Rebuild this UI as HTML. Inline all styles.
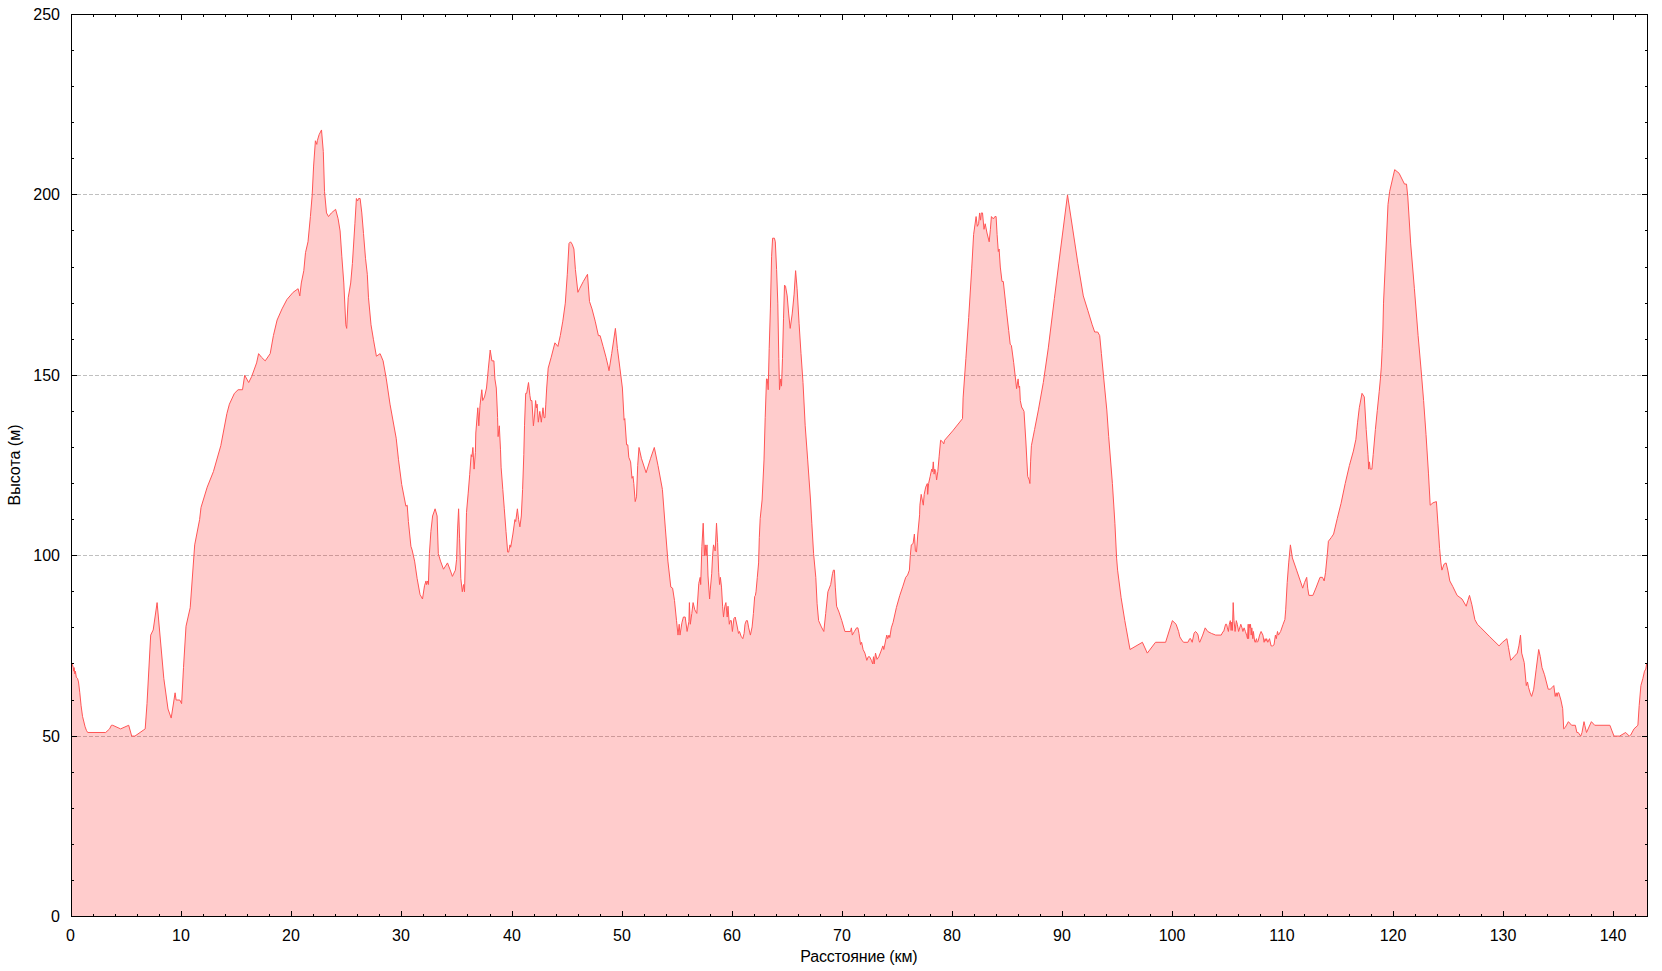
<!DOCTYPE html>
<html lang="ru"><head><meta charset="utf-8"><title>Профиль высоты</title>
<style>html,body{margin:0;padding:0;background:#fff;overflow:hidden}svg{display:block}text{font-family:"Liberation Sans",Arial,sans-serif;font-size:16px;fill:#000}</style></head><body>
<svg width="1662" height="971" viewBox="0 0 1662 971">
<rect x="0" y="0" width="1662" height="971" fill="#fff"/>
<g stroke="#c0c0c0" stroke-width="1" stroke-dasharray="4 2" shape-rendering="crispEdges">
<line x1="71" y1="736.5" x2="1647" y2="736.5"/>
<line x1="71" y1="555.5" x2="1647" y2="555.5"/>
<line x1="71" y1="375.5" x2="1647" y2="375.5"/>
<line x1="71" y1="194.5" x2="1647" y2="194.5"/>
</g>
<polygon points="71.5,916.5 71.5,663.94 72.2,663.94 73.3,667.55 73.7,671.16 74.1,667.55 74.8,673.83 75.4,671.16 76.3,677.34 77.5,678.37 78.5,681.98 79.8,692.80 81.1,705.80 82.5,716.31 85.1,726.82 86.4,730.33 87.7,732.49 105.7,732.49 109.6,728.88 111.4,725.28 112.7,725.28 120.6,728.88 128.7,725.28 131.7,736.10 134.9,736.10 145.2,728.88 147.0,703.63 150.7,635.08 153.2,629.96 157.1,602.60 163.8,678.37 168.0,709.03 171.2,718.06 175.1,692.80 176.1,700.02 179.8,700.02 181.6,703.63 183.5,667.55 186.0,626.25 190.2,607.72 194.7,544.88 199.6,519.62 201.0,507.44 207.2,487.15 213.4,471.61 220.8,445.67 226.9,413.55 229.4,404.16 234.4,393.34 238.1,389.73 242.5,389.73 244.7,375.30 248.7,382.52 251.7,376.48 256.6,362.89 258.6,353.65 261.5,357.26 265.2,360.87 270.2,353.65 273.4,335.61 277.1,320.03 282.0,308.91 286.9,299.53 293.1,292.32 298.1,288.71 299.8,295.92 301.3,282.97 303.8,270.67 305.5,252.63 308.0,241.80 310.4,216.55 312.2,194.90 313.6,166.04 315.4,140.78 316.8,144.39 317.3,140.78 319.1,134.71 321.5,129.96 323.3,151.60 324.5,191.29 326.5,212.94 328.5,216.55 331.4,212.94 335.6,209.33 338.1,218.72 340.1,230.98 341.8,256.24 343.8,282.97 345.8,324.79 346.7,328.40 348.2,297.79 350.7,282.97 352.4,263.45 354.9,223.76 356.4,198.51 357.6,200.93 358.6,198.51 360.1,198.51 361.8,212.94 363.5,233.55 365.5,258.26 367.3,274.28 368.5,297.79 371.0,324.79 373.4,339.22 376.4,356.22 380.1,353.65 383.1,360.87 386.3,378.91 390.0,404.16 396.2,438.26 398.5,459.77 401.7,484.48 405.9,506.22 407.2,505.19 408.4,521.54 410.9,546.25 412.1,549.96 414.6,561.08 417.1,578.37 420.0,594.43 422.5,599.00 424.5,585.78 426.0,580.96 426.5,584.56 427.7,580.96 428.4,584.56 429.4,553.66 430.9,531.42 432.6,516.01 435.1,508.80 437.1,516.01 438.3,553.66 440.5,561.08 443.5,569.23 447.5,562.92 449.9,569.23 452.4,576.40 455.4,570.13 456.6,559.31 457.6,528.95 458.6,508.80 459.6,538.84 460.8,578.37 462.3,591.78 463.5,584.56 464.5,591.78 465.5,552.09 466.5,512.40 468.2,493.12 469.7,474.59 471.2,454.68 471.9,456.80 472.9,447.46 474.1,469.11 475.4,452.35 475.8,433.03 477.8,407.77 478.8,425.81 480.0,405.32 481.8,389.73 482.7,400.56 484.5,396.95 486.5,388.02 488.4,368.08 490.2,350.04 491.9,360.87 493.9,360.87 494.9,378.91 496.3,388.02 497.6,417.67 498.1,436.64 499.3,425.81 500.5,449.80 501.1,467.18 502.8,489.42 504.3,508.80 506.0,531.42 507.7,552.09 508.7,552.09 510.0,544.88 510.7,547.24 512.9,534.05 514.9,519.62 515.7,521.54 517.4,508.80 518.6,519.62 519.9,526.84 521.3,516.01 522.6,489.42 523.8,454.68 524.5,425.81 525.7,393.34 526.7,393.34 528.5,382.52 529.9,395.44 530.7,400.56 531.9,400.56 533.4,425.81 534.6,414.99 535.6,400.56 536.4,407.77 537.1,404.16 538.3,422.20 539.8,411.38 541.3,422.20 543.0,407.77 544.0,417.67 545.0,417.67 545.8,404.16 546.7,388.02 548.2,368.08 551.2,357.26 554.9,342.83 557.9,346.44 560.3,335.61 562.8,321.18 565.3,303.14 567.3,274.28 569.0,243.47 570.5,241.80 572.2,244.22 573.9,249.02 575.4,269.42 577.9,292.32 579.6,288.71 583.3,281.49 587.5,274.28 589.5,301.54 592.0,308.95 595.2,321.18 598.4,335.61 600.1,335.61 603.1,346.44 606.0,357.26 608.0,365.78 609.0,370.73 611.7,353.65 615.4,328.40 617.4,348.49 619.9,368.08 622.4,388.02 624.1,420.15 624.8,418.60 626.6,444.85 627.8,444.85 628.8,457.30 630.6,461.89 632.0,478.30 633.0,476.32 633.8,483.54 635.2,501.58 636.5,496.83 637.7,465.50 639.0,447.46 641.4,458.28 646.1,472.72 650.6,458.28 654.3,447.46 658.0,465.50 662.4,489.42 665.4,528.95 667.9,561.08 670.8,587.02 672.6,588.17 674.5,600.61 676.5,620.64 678.0,635.08 679.2,624.25 680.0,635.08 681.9,622.85 683.4,617.04 685.2,617.04 687.1,631.47 688.9,621.61 689.4,602.60 690.3,624.25 691.8,613.43 693.1,602.60 694.8,609.82 696.8,613.43 698.8,583.31 700.2,577.35 700.7,584.56 701.9,546.33 703.2,523.23 704.4,555.70 705.2,544.88 706.1,555.70 707.0,544.88 708.0,575.98 709.6,599.00 710.2,590.81 711.7,573.74 712.6,555.70 713.5,544.88 714.5,548.48 715.2,550.97 716.5,523.23 717.6,542.63 718.7,572.28 719.6,584.56 720.4,577.35 721.5,587.10 722.6,606.21 723.5,617.04 724.8,606.21 725.9,602.60 727.2,617.04 728.0,606.21 729.3,624.25 730.2,620.64 731.3,620.64 732.4,631.47 733.9,618.61 735.2,617.04 737.1,626.02 738.5,633.44 739.5,631.47 741.1,636.22 742.8,638.68 744.1,633.44 745.0,624.25 746.3,620.64 747.4,620.64 748.7,627.86 750.4,635.08 752.1,626.95 753.4,613.43 754.7,596.37 755.4,595.39 756.0,591.78 757.3,577.35 758.6,562.92 759.3,537.66 760.2,518.53 762.1,500.00 764.0,459.93 765.2,417.67 766.5,378.91 767.2,378.91 768.2,389.73 769.2,348.49 770.4,308.95 771.6,256.24 772.6,238.20 774.4,238.20 775.3,241.80 776.6,269.42 777.8,303.14 778.8,358.37 779.5,389.73 780.8,378.91 781.5,386.12 782.5,358.37 783.5,318.84 784.5,285.10 785.5,286.22 787.2,295.92 788.7,313.96 790.2,328.40 792.2,313.96 794.1,294.13 795.6,270.67 797.1,288.71 799.1,323.78 801.0,353.65 803.0,382.52 805.2,425.81 807.7,459.93 810.5,500.00 811.8,523.23 813.6,553.75 815.8,577.35 817.1,603.78 818.6,620.64 821.4,626.95 823.8,631.47 825.7,613.43 827.9,591.78 830.7,584.56 832.5,573.74 833.4,570.13 834.4,570.13 835.3,587.10 836.6,606.21 839.0,612.12 841.8,620.64 844.9,631.47 850.5,631.47 851.4,627.86 852.3,635.08 854.4,631.47 856.6,627.86 857.9,627.86 859.0,633.44 860.5,644.56 861.6,642.29 863.1,649.51 864.9,653.12 866.8,660.33 868.3,656.72 869.6,656.72 871.4,660.33 872.7,663.94 873.5,656.72 874.2,663.94 875.5,653.12 877.0,659.38 878.8,656.72 880.7,651.97 882.9,645.90 883.8,649.51 886.3,637.14 886.8,635.08 887.7,638.68 889.0,635.08 889.8,637.51 891.3,627.86 893.1,622.32 896.4,607.49 899.8,595.39 902.9,586.18 905.7,577.35 907.6,575.06 909.4,570.13 910.3,555.70 911.3,544.88 913.1,543.55 914.4,534.05 915.4,550.97 916.5,552.09 917.8,534.05 919.6,514.83 919.9,505.19 921.2,494.36 923.3,505.19 924.2,494.36 925.7,487.15 927.3,483.54 927.7,494.36 928.6,483.54 930.2,476.32 931.7,469.11 932.5,471.66 933.3,461.89 934.1,474.13 934.7,469.11 935.6,470.42 936.6,479.93 937.8,471.66 939.1,456.83 940.6,440.24 942.2,441.39 943.8,443.85 944.6,440.24 952.7,430.89 962.5,418.60 963.1,397.91 965.9,358.37 968.7,317.57 971.7,268.84 973.6,234.59 976.1,216.55 977.3,226.34 978.6,223.76 979.6,212.94 980.6,220.16 981.3,212.94 982.5,212.94 984.0,229.30 985.2,223.76 987.0,233.01 989.2,241.80 990.4,229.30 991.4,216.55 993.4,218.92 994.9,216.55 996.1,216.55 997.1,234.59 998.3,251.54 999.1,249.02 1000.3,267.06 1002.0,281.49 1003.3,281.49 1006.2,308.37 1008.7,330.61 1010.2,344.20 1011.4,345.44 1013.7,362.73 1016.6,388.68 1018.1,378.91 1018.9,387.44 1019.6,386.12 1020.3,400.56 1021.8,407.77 1022.2,407.77 1024.0,411.38 1025.9,442.01 1027.7,476.32 1029.2,479.93 1029.9,483.54 1030.6,461.89 1031.4,445.71 1034.6,429.42 1038.4,409.93 1043.3,382.52 1048.3,347.91 1054.4,298.49 1060.6,249.02 1067.5,194.90 1073.0,230.98 1077.9,263.45 1083.3,295.92 1087.8,310.36 1092.2,324.79 1094.7,332.00 1097.7,332.00 1099.7,335.61 1101.4,353.65 1103.9,380.03 1106.8,409.93 1108.7,436.64 1112.4,483.54 1114.9,523.23 1116.6,558.14 1117.6,570.13 1121.1,597.67 1124.8,620.64 1126.1,627.86 1130.0,649.51 1142.4,642.29 1147.3,653.12 1155.5,642.29 1165.6,642.29 1172.4,620.64 1176.1,624.25 1178.6,631.47 1179.8,636.86 1181.7,639.95 1183.5,642.29 1187.9,642.29 1189.7,638.68 1190.6,638.68 1192.2,642.29 1194.1,633.15 1195.5,631.47 1197.1,633.15 1198.1,635.08 1199.0,640.57 1199.7,642.29 1202.7,635.08 1205.2,627.86 1207.7,631.47 1211.4,633.40 1215.7,635.08 1221.2,635.08 1223.1,631.47 1223.7,631.47 1225.6,624.25 1226.6,624.25 1227.4,627.86 1228.4,631.47 1229.3,624.25 1230.3,620.64 1231.1,630.43 1231.8,622.03 1232.4,630.43 1233.2,602.60 1234.0,620.64 1235.1,631.47 1236.3,620.64 1237.3,624.25 1238.6,631.47 1240.8,624.25 1242.0,627.86 1242.9,631.47 1244.1,627.86 1245.4,631.47 1246.6,635.08 1247.5,638.68 1248.2,624.25 1248.6,638.68 1249.3,624.25 1250.0,627.86 1250.5,624.25 1251.2,635.08 1251.8,627.86 1252.8,638.68 1253.4,631.47 1254.6,641.19 1255.2,642.29 1256.5,638.68 1257.1,642.29 1258.1,641.19 1259.6,635.08 1261.1,631.47 1262.9,635.08 1264.1,642.29 1265.1,638.68 1266.0,641.19 1266.6,638.68 1267.8,642.29 1269.5,638.68 1271.1,645.90 1272.5,645.90 1274.0,644.89 1275.4,635.08 1276.3,638.68 1277.5,631.47 1278.4,635.08 1280.6,631.47 1283.1,624.25 1284.9,619.56 1285.7,609.82 1287.2,582.62 1288.7,562.92 1290.4,544.88 1292.4,557.91 1296.6,570.13 1300.3,580.96 1302.7,588.17 1304.5,582.62 1306.7,577.35 1307.7,588.17 1308.9,595.39 1312.9,595.39 1316.3,587.06 1320.0,577.35 1322.5,577.35 1324.2,580.96 1325.5,572.73 1327.5,552.09 1328.4,541.27 1331.2,537.66 1333.6,534.05 1337.3,518.37 1341.0,503.55 1345.2,483.54 1349.4,465.50 1353.4,451.07 1355.9,439.30 1357.6,422.20 1359.3,407.77 1362.0,393.34 1364.3,396.95 1366.2,429.42 1368.0,454.68 1368.7,469.11 1369.5,461.89 1370.2,469.11 1371.9,469.11 1373.2,454.68 1375.4,429.42 1377.3,410.32 1379.2,391.78 1380.4,378.91 1381.3,367.07 1382.2,348.53 1382.9,330.00 1383.5,303.14 1386.0,249.02 1388.0,204.36 1389.7,191.29 1394.7,169.64 1399.1,173.25 1404.5,184.08 1406.5,184.08 1407.8,196.95 1410.7,243.90 1414.4,288.71 1418.1,335.61 1421.1,369.91 1423.6,400.56 1426.0,434.36 1428.5,473.90 1430.2,505.19 1433.0,502.81 1436.4,501.58 1437.9,523.23 1439.6,548.48 1440.9,562.92 1441.9,570.13 1444.1,564.08 1446.1,562.92 1447.8,570.13 1449.8,580.96 1452.7,586.32 1457.1,595.39 1462.0,599.00 1466.2,606.21 1467.8,600.71 1469.5,595.39 1471.9,604.84 1474.9,619.67 1477.4,624.25 1481.0,627.86 1489.2,636.15 1499.1,645.90 1502.4,642.29 1506.9,638.68 1508.5,647.69 1510.7,660.33 1514.0,656.72 1517.3,653.12 1518.9,645.90 1520.5,635.08 1521.7,653.12 1524.2,662.53 1526.3,685.59 1527.5,681.98 1528.5,687.25 1530.1,692.80 1531.6,696.41 1533.7,689.20 1536.2,669.12 1538.7,649.51 1540.3,656.72 1542.0,667.55 1544.5,674.76 1548.2,689.20 1550.2,689.20 1552.4,687.25 1553.8,685.59 1555.2,696.41 1556.2,692.80 1557.1,696.41 1557.8,692.80 1558.8,692.80 1560.9,700.02 1562.7,708.68 1563.7,728.88 1565.1,727.64 1568.4,721.67 1571.6,725.28 1575.3,725.28 1576.9,732.49 1578.2,732.49 1580.7,736.10 1582.0,732.49 1584.0,721.67 1584.8,725.28 1586.5,732.49 1591.4,721.67 1594.7,725.28 1609.9,725.28 1612.0,730.93 1614.0,736.10 1619.5,736.10 1625.7,732.49 1629.3,736.10 1630.7,735.05 1634.0,728.88 1637.9,725.28 1639.2,705.38 1640.9,685.59 1642.9,678.37 1644.5,671.16 1645.8,669.12 1646.6,663.94 1647.5,663.94 1647.5,916.5" fill="rgba(255,0,0,0.2)" stroke="none"/>
<polyline points="71.5,663.94 72.2,663.94 73.3,667.55 73.7,671.16 74.1,667.55 74.8,673.83 75.4,671.16 76.3,677.34 77.5,678.37 78.5,681.98 79.8,692.80 81.1,705.80 82.5,716.31 85.1,726.82 86.4,730.33 87.7,732.49 105.7,732.49 109.6,728.88 111.4,725.28 112.7,725.28 120.6,728.88 128.7,725.28 131.7,736.10 134.9,736.10 145.2,728.88 147.0,703.63 150.7,635.08 153.2,629.96 157.1,602.60 163.8,678.37 168.0,709.03 171.2,718.06 175.1,692.80 176.1,700.02 179.8,700.02 181.6,703.63 183.5,667.55 186.0,626.25 190.2,607.72 194.7,544.88 199.6,519.62 201.0,507.44 207.2,487.15 213.4,471.61 220.8,445.67 226.9,413.55 229.4,404.16 234.4,393.34 238.1,389.73 242.5,389.73 244.7,375.30 248.7,382.52 251.7,376.48 256.6,362.89 258.6,353.65 261.5,357.26 265.2,360.87 270.2,353.65 273.4,335.61 277.1,320.03 282.0,308.91 286.9,299.53 293.1,292.32 298.1,288.71 299.8,295.92 301.3,282.97 303.8,270.67 305.5,252.63 308.0,241.80 310.4,216.55 312.2,194.90 313.6,166.04 315.4,140.78 316.8,144.39 317.3,140.78 319.1,134.71 321.5,129.96 323.3,151.60 324.5,191.29 326.5,212.94 328.5,216.55 331.4,212.94 335.6,209.33 338.1,218.72 340.1,230.98 341.8,256.24 343.8,282.97 345.8,324.79 346.7,328.40 348.2,297.79 350.7,282.97 352.4,263.45 354.9,223.76 356.4,198.51 357.6,200.93 358.6,198.51 360.1,198.51 361.8,212.94 363.5,233.55 365.5,258.26 367.3,274.28 368.5,297.79 371.0,324.79 373.4,339.22 376.4,356.22 380.1,353.65 383.1,360.87 386.3,378.91 390.0,404.16 396.2,438.26 398.5,459.77 401.7,484.48 405.9,506.22 407.2,505.19 408.4,521.54 410.9,546.25 412.1,549.96 414.6,561.08 417.1,578.37 420.0,594.43 422.5,599.00 424.5,585.78 426.0,580.96 426.5,584.56 427.7,580.96 428.4,584.56 429.4,553.66 430.9,531.42 432.6,516.01 435.1,508.80 437.1,516.01 438.3,553.66 440.5,561.08 443.5,569.23 447.5,562.92 449.9,569.23 452.4,576.40 455.4,570.13 456.6,559.31 457.6,528.95 458.6,508.80 459.6,538.84 460.8,578.37 462.3,591.78 463.5,584.56 464.5,591.78 465.5,552.09 466.5,512.40 468.2,493.12 469.7,474.59 471.2,454.68 471.9,456.80 472.9,447.46 474.1,469.11 475.4,452.35 475.8,433.03 477.8,407.77 478.8,425.81 480.0,405.32 481.8,389.73 482.7,400.56 484.5,396.95 486.5,388.02 488.4,368.08 490.2,350.04 491.9,360.87 493.9,360.87 494.9,378.91 496.3,388.02 497.6,417.67 498.1,436.64 499.3,425.81 500.5,449.80 501.1,467.18 502.8,489.42 504.3,508.80 506.0,531.42 507.7,552.09 508.7,552.09 510.0,544.88 510.7,547.24 512.9,534.05 514.9,519.62 515.7,521.54 517.4,508.80 518.6,519.62 519.9,526.84 521.3,516.01 522.6,489.42 523.8,454.68 524.5,425.81 525.7,393.34 526.7,393.34 528.5,382.52 529.9,395.44 530.7,400.56 531.9,400.56 533.4,425.81 534.6,414.99 535.6,400.56 536.4,407.77 537.1,404.16 538.3,422.20 539.8,411.38 541.3,422.20 543.0,407.77 544.0,417.67 545.0,417.67 545.8,404.16 546.7,388.02 548.2,368.08 551.2,357.26 554.9,342.83 557.9,346.44 560.3,335.61 562.8,321.18 565.3,303.14 567.3,274.28 569.0,243.47 570.5,241.80 572.2,244.22 573.9,249.02 575.4,269.42 577.9,292.32 579.6,288.71 583.3,281.49 587.5,274.28 589.5,301.54 592.0,308.95 595.2,321.18 598.4,335.61 600.1,335.61 603.1,346.44 606.0,357.26 608.0,365.78 609.0,370.73 611.7,353.65 615.4,328.40 617.4,348.49 619.9,368.08 622.4,388.02 624.1,420.15 624.8,418.60 626.6,444.85 627.8,444.85 628.8,457.30 630.6,461.89 632.0,478.30 633.0,476.32 633.8,483.54 635.2,501.58 636.5,496.83 637.7,465.50 639.0,447.46 641.4,458.28 646.1,472.72 650.6,458.28 654.3,447.46 658.0,465.50 662.4,489.42 665.4,528.95 667.9,561.08 670.8,587.02 672.6,588.17 674.5,600.61 676.5,620.64 678.0,635.08 679.2,624.25 680.0,635.08 681.9,622.85 683.4,617.04 685.2,617.04 687.1,631.47 688.9,621.61 689.4,602.60 690.3,624.25 691.8,613.43 693.1,602.60 694.8,609.82 696.8,613.43 698.8,583.31 700.2,577.35 700.7,584.56 701.9,546.33 703.2,523.23 704.4,555.70 705.2,544.88 706.1,555.70 707.0,544.88 708.0,575.98 709.6,599.00 710.2,590.81 711.7,573.74 712.6,555.70 713.5,544.88 714.5,548.48 715.2,550.97 716.5,523.23 717.6,542.63 718.7,572.28 719.6,584.56 720.4,577.35 721.5,587.10 722.6,606.21 723.5,617.04 724.8,606.21 725.9,602.60 727.2,617.04 728.0,606.21 729.3,624.25 730.2,620.64 731.3,620.64 732.4,631.47 733.9,618.61 735.2,617.04 737.1,626.02 738.5,633.44 739.5,631.47 741.1,636.22 742.8,638.68 744.1,633.44 745.0,624.25 746.3,620.64 747.4,620.64 748.7,627.86 750.4,635.08 752.1,626.95 753.4,613.43 754.7,596.37 755.4,595.39 756.0,591.78 757.3,577.35 758.6,562.92 759.3,537.66 760.2,518.53 762.1,500.00 764.0,459.93 765.2,417.67 766.5,378.91 767.2,378.91 768.2,389.73 769.2,348.49 770.4,308.95 771.6,256.24 772.6,238.20 774.4,238.20 775.3,241.80 776.6,269.42 777.8,303.14 778.8,358.37 779.5,389.73 780.8,378.91 781.5,386.12 782.5,358.37 783.5,318.84 784.5,285.10 785.5,286.22 787.2,295.92 788.7,313.96 790.2,328.40 792.2,313.96 794.1,294.13 795.6,270.67 797.1,288.71 799.1,323.78 801.0,353.65 803.0,382.52 805.2,425.81 807.7,459.93 810.5,500.00 811.8,523.23 813.6,553.75 815.8,577.35 817.1,603.78 818.6,620.64 821.4,626.95 823.8,631.47 825.7,613.43 827.9,591.78 830.7,584.56 832.5,573.74 833.4,570.13 834.4,570.13 835.3,587.10 836.6,606.21 839.0,612.12 841.8,620.64 844.9,631.47 850.5,631.47 851.4,627.86 852.3,635.08 854.4,631.47 856.6,627.86 857.9,627.86 859.0,633.44 860.5,644.56 861.6,642.29 863.1,649.51 864.9,653.12 866.8,660.33 868.3,656.72 869.6,656.72 871.4,660.33 872.7,663.94 873.5,656.72 874.2,663.94 875.5,653.12 877.0,659.38 878.8,656.72 880.7,651.97 882.9,645.90 883.8,649.51 886.3,637.14 886.8,635.08 887.7,638.68 889.0,635.08 889.8,637.51 891.3,627.86 893.1,622.32 896.4,607.49 899.8,595.39 902.9,586.18 905.7,577.35 907.6,575.06 909.4,570.13 910.3,555.70 911.3,544.88 913.1,543.55 914.4,534.05 915.4,550.97 916.5,552.09 917.8,534.05 919.6,514.83 919.9,505.19 921.2,494.36 923.3,505.19 924.2,494.36 925.7,487.15 927.3,483.54 927.7,494.36 928.6,483.54 930.2,476.32 931.7,469.11 932.5,471.66 933.3,461.89 934.1,474.13 934.7,469.11 935.6,470.42 936.6,479.93 937.8,471.66 939.1,456.83 940.6,440.24 942.2,441.39 943.8,443.85 944.6,440.24 952.7,430.89 962.5,418.60 963.1,397.91 965.9,358.37 968.7,317.57 971.7,268.84 973.6,234.59 976.1,216.55 977.3,226.34 978.6,223.76 979.6,212.94 980.6,220.16 981.3,212.94 982.5,212.94 984.0,229.30 985.2,223.76 987.0,233.01 989.2,241.80 990.4,229.30 991.4,216.55 993.4,218.92 994.9,216.55 996.1,216.55 997.1,234.59 998.3,251.54 999.1,249.02 1000.3,267.06 1002.0,281.49 1003.3,281.49 1006.2,308.37 1008.7,330.61 1010.2,344.20 1011.4,345.44 1013.7,362.73 1016.6,388.68 1018.1,378.91 1018.9,387.44 1019.6,386.12 1020.3,400.56 1021.8,407.77 1022.2,407.77 1024.0,411.38 1025.9,442.01 1027.7,476.32 1029.2,479.93 1029.9,483.54 1030.6,461.89 1031.4,445.71 1034.6,429.42 1038.4,409.93 1043.3,382.52 1048.3,347.91 1054.4,298.49 1060.6,249.02 1067.5,194.90 1073.0,230.98 1077.9,263.45 1083.3,295.92 1087.8,310.36 1092.2,324.79 1094.7,332.00 1097.7,332.00 1099.7,335.61 1101.4,353.65 1103.9,380.03 1106.8,409.93 1108.7,436.64 1112.4,483.54 1114.9,523.23 1116.6,558.14 1117.6,570.13 1121.1,597.67 1124.8,620.64 1126.1,627.86 1130.0,649.51 1142.4,642.29 1147.3,653.12 1155.5,642.29 1165.6,642.29 1172.4,620.64 1176.1,624.25 1178.6,631.47 1179.8,636.86 1181.7,639.95 1183.5,642.29 1187.9,642.29 1189.7,638.68 1190.6,638.68 1192.2,642.29 1194.1,633.15 1195.5,631.47 1197.1,633.15 1198.1,635.08 1199.0,640.57 1199.7,642.29 1202.7,635.08 1205.2,627.86 1207.7,631.47 1211.4,633.40 1215.7,635.08 1221.2,635.08 1223.1,631.47 1223.7,631.47 1225.6,624.25 1226.6,624.25 1227.4,627.86 1228.4,631.47 1229.3,624.25 1230.3,620.64 1231.1,630.43 1231.8,622.03 1232.4,630.43 1233.2,602.60 1234.0,620.64 1235.1,631.47 1236.3,620.64 1237.3,624.25 1238.6,631.47 1240.8,624.25 1242.0,627.86 1242.9,631.47 1244.1,627.86 1245.4,631.47 1246.6,635.08 1247.5,638.68 1248.2,624.25 1248.6,638.68 1249.3,624.25 1250.0,627.86 1250.5,624.25 1251.2,635.08 1251.8,627.86 1252.8,638.68 1253.4,631.47 1254.6,641.19 1255.2,642.29 1256.5,638.68 1257.1,642.29 1258.1,641.19 1259.6,635.08 1261.1,631.47 1262.9,635.08 1264.1,642.29 1265.1,638.68 1266.0,641.19 1266.6,638.68 1267.8,642.29 1269.5,638.68 1271.1,645.90 1272.5,645.90 1274.0,644.89 1275.4,635.08 1276.3,638.68 1277.5,631.47 1278.4,635.08 1280.6,631.47 1283.1,624.25 1284.9,619.56 1285.7,609.82 1287.2,582.62 1288.7,562.92 1290.4,544.88 1292.4,557.91 1296.6,570.13 1300.3,580.96 1302.7,588.17 1304.5,582.62 1306.7,577.35 1307.7,588.17 1308.9,595.39 1312.9,595.39 1316.3,587.06 1320.0,577.35 1322.5,577.35 1324.2,580.96 1325.5,572.73 1327.5,552.09 1328.4,541.27 1331.2,537.66 1333.6,534.05 1337.3,518.37 1341.0,503.55 1345.2,483.54 1349.4,465.50 1353.4,451.07 1355.9,439.30 1357.6,422.20 1359.3,407.77 1362.0,393.34 1364.3,396.95 1366.2,429.42 1368.0,454.68 1368.7,469.11 1369.5,461.89 1370.2,469.11 1371.9,469.11 1373.2,454.68 1375.4,429.42 1377.3,410.32 1379.2,391.78 1380.4,378.91 1381.3,367.07 1382.2,348.53 1382.9,330.00 1383.5,303.14 1386.0,249.02 1388.0,204.36 1389.7,191.29 1394.7,169.64 1399.1,173.25 1404.5,184.08 1406.5,184.08 1407.8,196.95 1410.7,243.90 1414.4,288.71 1418.1,335.61 1421.1,369.91 1423.6,400.56 1426.0,434.36 1428.5,473.90 1430.2,505.19 1433.0,502.81 1436.4,501.58 1437.9,523.23 1439.6,548.48 1440.9,562.92 1441.9,570.13 1444.1,564.08 1446.1,562.92 1447.8,570.13 1449.8,580.96 1452.7,586.32 1457.1,595.39 1462.0,599.00 1466.2,606.21 1467.8,600.71 1469.5,595.39 1471.9,604.84 1474.9,619.67 1477.4,624.25 1481.0,627.86 1489.2,636.15 1499.1,645.90 1502.4,642.29 1506.9,638.68 1508.5,647.69 1510.7,660.33 1514.0,656.72 1517.3,653.12 1518.9,645.90 1520.5,635.08 1521.7,653.12 1524.2,662.53 1526.3,685.59 1527.5,681.98 1528.5,687.25 1530.1,692.80 1531.6,696.41 1533.7,689.20 1536.2,669.12 1538.7,649.51 1540.3,656.72 1542.0,667.55 1544.5,674.76 1548.2,689.20 1550.2,689.20 1552.4,687.25 1553.8,685.59 1555.2,696.41 1556.2,692.80 1557.1,696.41 1557.8,692.80 1558.8,692.80 1560.9,700.02 1562.7,708.68 1563.7,728.88 1565.1,727.64 1568.4,721.67 1571.6,725.28 1575.3,725.28 1576.9,732.49 1578.2,732.49 1580.7,736.10 1582.0,732.49 1584.0,721.67 1584.8,725.28 1586.5,732.49 1591.4,721.67 1594.7,725.28 1609.9,725.28 1612.0,730.93 1614.0,736.10 1619.5,736.10 1625.7,732.49 1629.3,736.10 1630.7,735.05 1634.0,728.88 1637.9,725.28 1639.2,705.38 1640.9,685.59 1642.9,678.37 1644.5,671.16 1645.8,669.12 1646.6,663.94 1647.5,663.94" fill="none" stroke="#ff5555" stroke-width="1" stroke-linejoin="round"/>
<g fill="#000" shape-rendering="crispEdges">
<rect x="71" y="14" width="1577" height="1"/>
<rect x="71" y="916" width="1577" height="1"/>
<rect x="71" y="14" width="1" height="903"/>
<rect x="1647" y="14" width="1" height="903"/>
<rect x="71" y="15" width="1" height="5"/>
<rect x="71" y="911" width="1" height="5"/>
<rect x="93" y="15" width="1" height="2"/>
<rect x="93" y="914" width="1" height="2"/>
<rect x="115" y="15" width="1" height="2"/>
<rect x="115" y="914" width="1" height="2"/>
<rect x="137" y="15" width="1" height="2"/>
<rect x="137" y="914" width="1" height="2"/>
<rect x="159" y="15" width="1" height="2"/>
<rect x="159" y="914" width="1" height="2"/>
<rect x="181" y="15" width="1" height="5"/>
<rect x="181" y="911" width="1" height="5"/>
<rect x="203" y="15" width="1" height="2"/>
<rect x="203" y="914" width="1" height="2"/>
<rect x="225" y="15" width="1" height="2"/>
<rect x="225" y="914" width="1" height="2"/>
<rect x="247" y="15" width="1" height="2"/>
<rect x="247" y="914" width="1" height="2"/>
<rect x="269" y="15" width="1" height="2"/>
<rect x="269" y="914" width="1" height="2"/>
<rect x="291" y="15" width="1" height="5"/>
<rect x="291" y="911" width="1" height="5"/>
<rect x="313" y="15" width="1" height="2"/>
<rect x="313" y="914" width="1" height="2"/>
<rect x="335" y="15" width="1" height="2"/>
<rect x="335" y="914" width="1" height="2"/>
<rect x="357" y="15" width="1" height="2"/>
<rect x="357" y="914" width="1" height="2"/>
<rect x="379" y="15" width="1" height="2"/>
<rect x="379" y="914" width="1" height="2"/>
<rect x="401" y="15" width="1" height="5"/>
<rect x="401" y="911" width="1" height="5"/>
<rect x="423" y="15" width="1" height="2"/>
<rect x="423" y="914" width="1" height="2"/>
<rect x="445" y="15" width="1" height="2"/>
<rect x="445" y="914" width="1" height="2"/>
<rect x="467" y="15" width="1" height="2"/>
<rect x="467" y="914" width="1" height="2"/>
<rect x="490" y="15" width="1" height="2"/>
<rect x="490" y="914" width="1" height="2"/>
<rect x="512" y="15" width="1" height="5"/>
<rect x="512" y="911" width="1" height="5"/>
<rect x="534" y="15" width="1" height="2"/>
<rect x="534" y="914" width="1" height="2"/>
<rect x="556" y="15" width="1" height="2"/>
<rect x="556" y="914" width="1" height="2"/>
<rect x="578" y="15" width="1" height="2"/>
<rect x="578" y="914" width="1" height="2"/>
<rect x="600" y="15" width="1" height="2"/>
<rect x="600" y="914" width="1" height="2"/>
<rect x="622" y="15" width="1" height="5"/>
<rect x="622" y="911" width="1" height="5"/>
<rect x="644" y="15" width="1" height="2"/>
<rect x="644" y="914" width="1" height="2"/>
<rect x="666" y="15" width="1" height="2"/>
<rect x="666" y="914" width="1" height="2"/>
<rect x="688" y="15" width="1" height="2"/>
<rect x="688" y="914" width="1" height="2"/>
<rect x="710" y="15" width="1" height="2"/>
<rect x="710" y="914" width="1" height="2"/>
<rect x="732" y="15" width="1" height="5"/>
<rect x="732" y="911" width="1" height="5"/>
<rect x="754" y="15" width="1" height="2"/>
<rect x="754" y="914" width="1" height="2"/>
<rect x="776" y="15" width="1" height="2"/>
<rect x="776" y="914" width="1" height="2"/>
<rect x="798" y="15" width="1" height="2"/>
<rect x="798" y="914" width="1" height="2"/>
<rect x="820" y="15" width="1" height="2"/>
<rect x="820" y="914" width="1" height="2"/>
<rect x="842" y="15" width="1" height="5"/>
<rect x="842" y="911" width="1" height="5"/>
<rect x="864" y="15" width="1" height="2"/>
<rect x="864" y="914" width="1" height="2"/>
<rect x="886" y="15" width="1" height="2"/>
<rect x="886" y="914" width="1" height="2"/>
<rect x="908" y="15" width="1" height="2"/>
<rect x="908" y="914" width="1" height="2"/>
<rect x="930" y="15" width="1" height="2"/>
<rect x="930" y="914" width="1" height="2"/>
<rect x="952" y="15" width="1" height="5"/>
<rect x="952" y="911" width="1" height="5"/>
<rect x="974" y="15" width="1" height="2"/>
<rect x="974" y="914" width="1" height="2"/>
<rect x="996" y="15" width="1" height="2"/>
<rect x="996" y="914" width="1" height="2"/>
<rect x="1018" y="15" width="1" height="2"/>
<rect x="1018" y="914" width="1" height="2"/>
<rect x="1040" y="15" width="1" height="2"/>
<rect x="1040" y="914" width="1" height="2"/>
<rect x="1062" y="15" width="1" height="5"/>
<rect x="1062" y="911" width="1" height="5"/>
<rect x="1084" y="15" width="1" height="2"/>
<rect x="1084" y="914" width="1" height="2"/>
<rect x="1106" y="15" width="1" height="2"/>
<rect x="1106" y="914" width="1" height="2"/>
<rect x="1128" y="15" width="1" height="2"/>
<rect x="1128" y="914" width="1" height="2"/>
<rect x="1150" y="15" width="1" height="2"/>
<rect x="1150" y="914" width="1" height="2"/>
<rect x="1172" y="15" width="1" height="5"/>
<rect x="1172" y="911" width="1" height="5"/>
<rect x="1194" y="15" width="1" height="2"/>
<rect x="1194" y="914" width="1" height="2"/>
<rect x="1216" y="15" width="1" height="2"/>
<rect x="1216" y="914" width="1" height="2"/>
<rect x="1238" y="15" width="1" height="2"/>
<rect x="1238" y="914" width="1" height="2"/>
<rect x="1260" y="15" width="1" height="2"/>
<rect x="1260" y="914" width="1" height="2"/>
<rect x="1282" y="15" width="1" height="5"/>
<rect x="1282" y="911" width="1" height="5"/>
<rect x="1304" y="15" width="1" height="2"/>
<rect x="1304" y="914" width="1" height="2"/>
<rect x="1327" y="15" width="1" height="2"/>
<rect x="1327" y="914" width="1" height="2"/>
<rect x="1349" y="15" width="1" height="2"/>
<rect x="1349" y="914" width="1" height="2"/>
<rect x="1371" y="15" width="1" height="2"/>
<rect x="1371" y="914" width="1" height="2"/>
<rect x="1393" y="15" width="1" height="5"/>
<rect x="1393" y="911" width="1" height="5"/>
<rect x="1415" y="15" width="1" height="2"/>
<rect x="1415" y="914" width="1" height="2"/>
<rect x="1437" y="15" width="1" height="2"/>
<rect x="1437" y="914" width="1" height="2"/>
<rect x="1459" y="15" width="1" height="2"/>
<rect x="1459" y="914" width="1" height="2"/>
<rect x="1481" y="15" width="1" height="2"/>
<rect x="1481" y="914" width="1" height="2"/>
<rect x="1503" y="15" width="1" height="5"/>
<rect x="1503" y="911" width="1" height="5"/>
<rect x="1525" y="15" width="1" height="2"/>
<rect x="1525" y="914" width="1" height="2"/>
<rect x="1547" y="15" width="1" height="2"/>
<rect x="1547" y="914" width="1" height="2"/>
<rect x="1569" y="15" width="1" height="2"/>
<rect x="1569" y="914" width="1" height="2"/>
<rect x="1591" y="15" width="1" height="2"/>
<rect x="1591" y="914" width="1" height="2"/>
<rect x="1613" y="15" width="1" height="5"/>
<rect x="1613" y="911" width="1" height="5"/>
<rect x="1635" y="15" width="1" height="2"/>
<rect x="1635" y="914" width="1" height="2"/>
<rect x="72" y="916" width="5" height="1"/>
<rect x="1642" y="916" width="5" height="1"/>
<rect x="72" y="880" width="2" height="1"/>
<rect x="1645" y="880" width="2" height="1"/>
<rect x="72" y="844" width="2" height="1"/>
<rect x="1645" y="844" width="2" height="1"/>
<rect x="72" y="808" width="2" height="1"/>
<rect x="1645" y="808" width="2" height="1"/>
<rect x="72" y="772" width="2" height="1"/>
<rect x="1645" y="772" width="2" height="1"/>
<rect x="72" y="736" width="5" height="1"/>
<rect x="1642" y="736" width="5" height="1"/>
<rect x="72" y="700" width="2" height="1"/>
<rect x="1645" y="700" width="2" height="1"/>
<rect x="72" y="663" width="2" height="1"/>
<rect x="1645" y="663" width="2" height="1"/>
<rect x="72" y="627" width="2" height="1"/>
<rect x="1645" y="627" width="2" height="1"/>
<rect x="72" y="591" width="2" height="1"/>
<rect x="1645" y="591" width="2" height="1"/>
<rect x="72" y="555" width="5" height="1"/>
<rect x="1642" y="555" width="5" height="1"/>
<rect x="72" y="519" width="2" height="1"/>
<rect x="1645" y="519" width="2" height="1"/>
<rect x="72" y="483" width="2" height="1"/>
<rect x="1645" y="483" width="2" height="1"/>
<rect x="72" y="447" width="2" height="1"/>
<rect x="1645" y="447" width="2" height="1"/>
<rect x="72" y="411" width="2" height="1"/>
<rect x="1645" y="411" width="2" height="1"/>
<rect x="72" y="375" width="5" height="1"/>
<rect x="1642" y="375" width="5" height="1"/>
<rect x="72" y="339" width="2" height="1"/>
<rect x="1645" y="339" width="2" height="1"/>
<rect x="72" y="303" width="2" height="1"/>
<rect x="1645" y="303" width="2" height="1"/>
<rect x="72" y="267" width="2" height="1"/>
<rect x="1645" y="267" width="2" height="1"/>
<rect x="72" y="230" width="2" height="1"/>
<rect x="1645" y="230" width="2" height="1"/>
<rect x="72" y="194" width="5" height="1"/>
<rect x="1642" y="194" width="5" height="1"/>
<rect x="72" y="158" width="2" height="1"/>
<rect x="1645" y="158" width="2" height="1"/>
<rect x="72" y="122" width="2" height="1"/>
<rect x="1645" y="122" width="2" height="1"/>
<rect x="72" y="86" width="2" height="1"/>
<rect x="1645" y="86" width="2" height="1"/>
<rect x="72" y="50" width="2" height="1"/>
<rect x="1645" y="50" width="2" height="1"/>
<rect x="72" y="14" width="5" height="1"/>
<rect x="1642" y="14" width="5" height="1"/>
</g>
<g text-anchor="end">
<text x="60" y="922">0</text>
<text x="60" y="742">50</text>
<text x="60" y="561">100</text>
<text x="60" y="381">150</text>
<text x="60" y="200">200</text>
<text x="60" y="20">250</text>
</g>
<g text-anchor="middle">
<text x="70.5" y="941">0</text>
<text x="181" y="941">10</text>
<text x="291" y="941">20</text>
<text x="401" y="941">30</text>
<text x="512" y="941">40</text>
<text x="622" y="941">50</text>
<text x="732" y="941">60</text>
<text x="842" y="941">70</text>
<text x="952" y="941">80</text>
<text x="1062" y="941">90</text>
<text x="1172" y="941">100</text>
<text x="1282" y="941">110</text>
<text x="1393" y="941">120</text>
<text x="1503" y="941">130</text>
<text x="1613" y="941">140</text>
<text x="858.8" y="961.5" style="letter-spacing:-0.15px">Расстояние (км)</text>
<text transform="translate(20.4,465) rotate(-90)">Высота (м)</text>
</g>
</svg></body></html>
